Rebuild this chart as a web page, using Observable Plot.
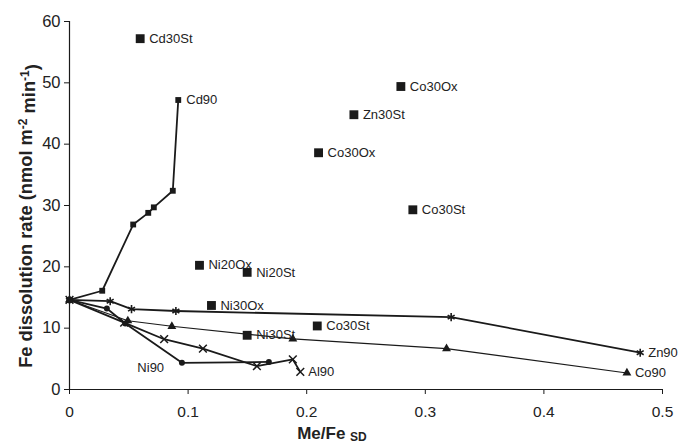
<!DOCTYPE html>
<html>
<head>
<meta charset="utf-8">
<script src="https://cdn.jsdelivr.net/npm/d3@7"></script>
<script src="https://cdn.jsdelivr.net/npm/@observablehq/plot@0.6"></script>
<style>
  html, body { margin: 0; padding: 0; background: #fff; }
  #chart svg { display: block; }
</style>
</head>
<body>
<div id="chart"></div>
<script>
// Series with connecting lines (Me/Fe_SD vs Fe dissolution rate)
const cd90X = [0, 0.0276, 0.0537, 0.0664, 0.0711, 0.0871, 0.0917];
const cd90Y = [14.6, 16.1, 26.9, 28.8, 29.7, 32.4, 47.2];
const zn90X = [0, 0.0343, 0.0523, 0.0897, 0.3218, 0.4812];
const zn90Y = [14.6, 14.4, 13.1, 12.8, 11.8, 6.0];
const co90X = [0, 0.0492, 0.0863, 0.1883, 0.3179, 0.470];
const co90Y = [14.6, 11.2, 10.3, 8.25, 6.67, 2.7];
const ni90X = [0, 0.0315, 0.0470, 0.0948, 0.1681];
const ni90Y = [14.6, 13.2, 10.75, 4.35, 4.5];
const al90X = [0, 0.0461, 0.0798, 0.1125, 0.158, 0.1883, 0.1946];
const al90Y = [14.6, 10.9, 8.2, 6.67, 3.8, 4.9, 2.87];

// Standalone samples
const soloLabels = ["Cd30St", "Co30Ox", "Zn30St", "Co30Ox", "Co30St", "Ni20Ox", "Ni20St", "Ni30Ox", "Ni30St", "Co30St"];
const soloX = [0.0596, 0.2794, 0.2398, 0.2100, 0.2895, 0.1096, 0.1498, 0.1197, 0.1498, 0.2089];
const soloY = [57.2, 49.4, 44.8, 38.6, 29.3, 20.25, 19.1, 13.7, 8.84, 10.36];

// Ni90 label sits apart from its line
const ni90LabelX = 0.0685;
const ni90LabelY = 3.5;

const xTicks = [0, 0.1, 0.2, 0.3, 0.4, 0.5];
const yTicks = [0, 10, 20, 30, 40, 50, 60];

const zip = (xs, ys) => xs.map((x, i) => ({x, y: ys[i]}));
const cd90 = zip(cd90X, cd90Y);
const zn90 = zip(zn90X, zn90Y);
const co90 = zip(co90X, co90Y);
const ni90 = zip(ni90X, ni90Y);
const al90 = zip(al90X, al90Y);
const solo = soloLabels.map((label, i) => ({label, x: soloX[i], y: soloY[i]}));
const ends = [
  {label: "Cd90", ...cd90[cd90.length - 1]},
  {label: "Zn90", ...zn90[zn90.length - 1]},
  {label: "Co90", ...co90[co90.length - 1]},
  {label: "Al90", ...al90[al90.length - 1]}
];

const ink = "#1a1a1a";
const txt = "#222";

const plot = Plot.plot({
  width: 679,
  height: 443,
  marginLeft: 69,
  marginRight: 17,
  marginTop: 21,
  marginBottom: 54,
  style: {fontFamily: "'Liberation Sans', Arial, sans-serif", fontSize: "14px", color: txt, background: "#fff"},
  x: {domain: [0, 0.5], label: null},
  y: {domain: [0, 60], label: null},
  marks: [
    Plot.axisX({ticks: xTicks, tickFormat: d => d3.format("~g")(d), tickSize: 5, tickPadding: 11, fontSize: 15.5, label: null, stroke: ink, fill: txt}),
    Plot.axisY({ticks: yTicks, tickSize: 5, tickPadding: 4, fontSize: 16.5, label: null, stroke: ink, fill: txt}),
    Plot.ruleY([0], {stroke: ink, strokeWidth: 1.2}),
    Plot.ruleX([0], {stroke: ink, strokeWidth: 1.2}),
    Plot.line(co90, {x: "x", y: "y", stroke: ink, strokeWidth: 1.1}),
    Plot.line(al90, {x: "x", y: "y", stroke: ink, strokeWidth: 1.8}),
    Plot.line(ni90, {x: "x", y: "y", stroke: ink, strokeWidth: 1.8}),
    Plot.line(zn90, {x: "x", y: "y", stroke: ink, strokeWidth: 1.8}),
    Plot.line(cd90, {x: "x", y: "y", stroke: ink, strokeWidth: 1.8}),
    Plot.dot(co90, {x: "x", y: "y", symbol: "triangle", r: 3.3, fill: ink, stroke: "none"}),
    Plot.dot(ni90, {x: "x", y: "y", symbol: "circle", r: 3, fill: ink, stroke: "none"}),
    Plot.dot(al90, {x: "x", y: "y", symbol: "times", r: 3.6, stroke: ink, strokeWidth: 1.5, fill: "none"}),
    Plot.dot(zn90, {x: "x", y: "y", symbol: "asterisk", r: 3.8, stroke: ink, strokeWidth: 1.6, fill: "none"}),
    Plot.dot(cd90, {x: "x", y: "y", symbol: "square", r: 3.3, fill: ink, stroke: "none"}),
    Plot.dot(solo, {x: "x", y: "y", symbol: "square", r: 5, fill: ink, stroke: "none"}),
    Plot.text(solo, {x: "x", y: "y", text: "label", textAnchor: "start", dx: 9, fontSize: 13, fill: txt}),
    Plot.text(ends, {x: "x", y: "y", text: "label", textAnchor: "start", dx: 8, fontSize: 13, fill: txt}),
    Plot.text([{label: "Ni90", x: ni90LabelX, y: ni90LabelY}], {x: "x", y: "y", text: "label", textAnchor: "middle", fontSize: 13, fill: txt})
  ]
});

const svg = d3.select(plot);
// y-axis title
const yt = svg.append("text")
  .attr("transform", "translate(32,216) rotate(-90)")
  .attr("text-anchor", "middle")
  .attr("font-family", "'Liberation Sans', Arial, sans-serif")
  .attr("font-weight", "bold")
  .attr("font-size", 18.3)
  .attr("fill", txt);
yt.append("tspan").text("Fe dissolution rate (nmol m");
yt.append("tspan").attr("dy", "-0.45em").attr("font-size", 12).text("-2");
yt.append("tspan").attr("dy", "0.45em").text(" min");
yt.append("tspan").attr("dy", "-0.45em").attr("font-size", 12).text("-1");
yt.append("tspan").attr("dy", "0.45em").text(")");
// x-axis title
const xt = svg.append("text")
  .attr("x", 332)
  .attr("y", 439)
  .attr("font-family", "'Liberation Sans', Arial, sans-serif")
  .attr("font-weight", "bold")
  .attr("font-size", 17)
  .attr("fill", txt);
xt.append("tspan").text("Me/Fe ");
xt.append("tspan").attr("font-size", 12).attr("dy", "2").text("SD");

document.getElementById("chart").append(plot);
</script>
</body>
</html>
